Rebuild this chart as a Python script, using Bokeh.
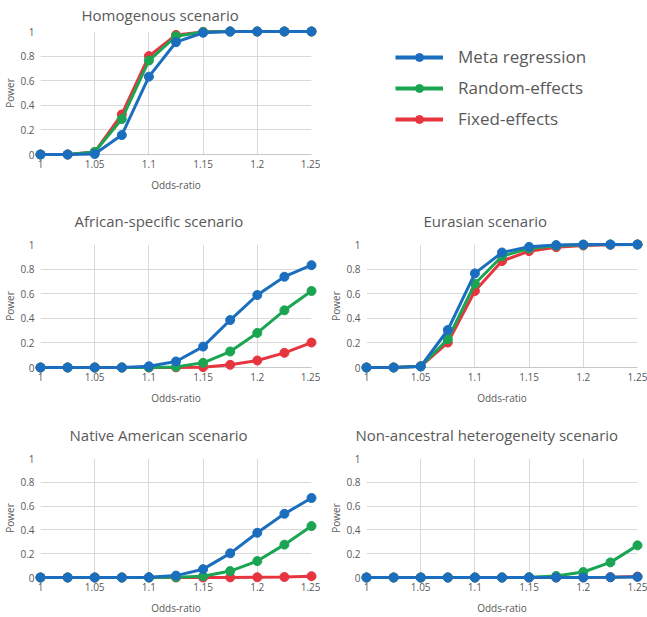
from bokeh.plotting import figure
from bokeh.layouts import row, column
from bokeh.models import Range1d, FixedTicker, Legend, LegendItem, LinearAxis
from bokeh.embed import file_html
from bokeh.resources import INLINE

# ---------------- data ----------------
odds_ratio = [1.0, 1.025, 1.05, 1.075, 1.1, 1.125, 1.15, 1.175, 1.2, 1.225, 1.25]
x_ticks = [1.0, 1.05, 1.1, 1.15, 1.2, 1.25]
x_tick_labels = ["1", "1.05", "1.1", "1.15", "1.2", "1.25"]
y_ticks = [0.0, 0.2, 0.4, 0.6, 0.8, 1.0]
y_tick_labels = ["0", "0.2", "0.4", "0.6", "0.8", "1"]
series_names = ["Meta regression", "Random-effects", "Fixed-effects"]
series_colors = ["#1B6EBE", "#1BA553", "#E6353F"]

homog_meta = [0, 0, 0.004, 0.158, 0.633, 0.913, 0.99, 1, 1, 1, 1]
homog_random = [0, 0, 0.02, 0.288, 0.764, 0.962, 0.996, 1, 1, 1, 1]
homog_fixed = [0, 0, 0.02, 0.326, 0.8, 0.972, 0.997, 1, 1, 1, 1]

african_meta = [0, 0, 0, 0, 0.01, 0.049, 0.17, 0.386, 0.589, 0.738, 0.832]
african_random = [0, 0, 0, 0, 0.001, 0.005, 0.038, 0.13, 0.281, 0.465, 0.622]
african_fixed = [0, 0, 0, 0, 0, 0.001, 0.003, 0.022, 0.057, 0.119, 0.203]

eurasian_meta = [0, 0, 0.008, 0.305, 0.765, 0.935, 0.981, 0.995, 1, 1, 1]
eurasian_random = [0, 0, 0.01, 0.23, 0.681, 0.905, 0.968, 0.99, 0.997, 1, 1]
eurasian_fixed = [0, 0, 0.01, 0.203, 0.622, 0.865, 0.946, 0.978, 0.992, 0.998, 1]

native_meta = [0, 0, 0, 0, 0.002, 0.016, 0.07, 0.203, 0.376, 0.535, 0.668]
native_random = [0, 0, 0, 0, 0, 0.003, 0.011, 0.054, 0.138, 0.276, 0.432]
native_fixed = [0, 0, 0, 0, 0, 0, 0, 0.001, 0.002, 0.004, 0.011]

nonanc_meta = [0, 0, 0, 0, 0, 0, 0, 0, 0, 0.002, 0.005]
nonanc_random = [0, 0, 0, 0, 0, 0, 0.003, 0.013, 0.046, 0.127, 0.27]
nonanc_fixed = [0, 0, 0, 0, 0, 0, 0, 0, 0.001, 0.003, 0.008]

TEXT = "#595959"
FONT = "Open Sans"


def make_panel(title, meta, rand, fixed, width, height, bl, br, bt, bb,
               title_offset, title_standoff, title_gap=0):
    p = figure(width=width, height=height,
               x_range=Range1d(odds_ratio[0], odds_ratio[-1]),
               y_range=Range1d(y_ticks[0], y_ticks[-1]),
               output_backend="svg", toolbar_location=None,
               min_border_left=bl, min_border_right=br,
               min_border_top=bt, min_border_bottom=bb)
    p.title.text = title
    p.title.align = "left"
    p.title.offset = title_offset
    p.title.standoff = title_standoff
    p.title.text_font = FONT
    p.title.text_font_size = "15px"
    p.title.text_font_style = "normal"
    p.title.text_color = TEXT
    p.outline_line_color = None
    p.background_fill_color = "white"
    p.border_fill_color = "white"

    xa = p.below[0]
    ya = p.left[0]
    xa.ticker = FixedTicker(ticks=x_ticks)
    ya.ticker = FixedTicker(ticks=y_ticks)
    xa.major_label_overrides = dict(zip(x_ticks, x_tick_labels))
    ya.major_label_overrides = dict(zip(y_ticks, y_tick_labels))
    xa.axis_label = "Odds-ratio"
    ya.axis_label = "Power"
    for ax in (xa, ya):
        ax.major_tick_line_color = None
        ax.minor_tick_line_color = None
        ax.major_tick_out = 0
        ax.major_tick_in = 0
        ax.minor_tick_out = 0
        ax.minor_tick_in = 0
        ax.major_label_text_font = FONT
        ax.major_label_text_font_size = "10px"
        ax.major_label_text_color = TEXT
        ax.axis_label_text_font = FONT
        ax.axis_label_text_font_size = "10px"
        ax.axis_label_text_font_style = "normal"
        ax.axis_label_text_color = TEXT
    xa.axis_line_color = "#c8c8c8"
    ya.axis_line_color = None
    xa.major_label_standoff = 5
    xa.axis_label_standoff = 7
    ya.major_label_standoff = 6
    ya.axis_label_standoff = 0
    p.xgrid.ticker = FixedTicker(ticks=x_ticks)
    p.ygrid.ticker = FixedTicker(ticks=y_ticks)
    p.grid.grid_line_color = "#d9d9d9"
    p.grid.grid_line_width = 1

    if title_gap:
        # blank spacer between the frame and the title (invisible tick, empty label)
        gap = LinearAxis(ticker=FixedTicker(ticks=[x_ticks[0]]),
                         major_label_overrides={x_ticks[0]: ""},
                         major_label_text_font_size="1px", major_label_text_alpha=0,
                         axis_line_color=None,
                         major_tick_line_color=None, minor_tick_line_color=None,
                         major_tick_out=title_gap, major_tick_in=0,
                         minor_tick_out=0, minor_tick_in=0, major_label_standoff=0)
        p.add_layout(gap, "above")

    for ys, c in ((fixed, series_colors[2]), (rand, series_colors[1]), (meta, series_colors[0])):
        ln = p.line(odds_ratio, ys, line_width=3, line_color=c)
        ln.level = "overlay"
        sc = p.scatter(odds_ratio, ys, size=9, fill_color=c, line_color=c)
        sc.level = "overlay"
    return p


LW, RW = 320, 327
H1, H2, H3 = 194, 214, 209

p1 = make_panel("Homogenous scenario", homog_meta, homog_random, homog_fixed,
                LW, H1, 39, 9, 31, 40, 41, 0, title_gap=7)
p2 = make_panel("African-specific scenario", african_meta, african_random, african_fixed,
                LW, H2, 39, 9, 50, 41, 34, 28)
p3 = make_panel("Eurasian scenario", eurasian_meta, eurasian_random, eurasian_fixed,
                RW, H2, 46, 10, 50, 41, 57, 28)
p4 = make_panel("Native American scenario", native_meta, native_random, native_fixed,
                LW, H3, 39, 9, 50, 39, 29, 28)
p5 = make_panel("Non-ancestral heterogeneity scenario", nonanc_meta, nonanc_random, nonanc_fixed,
                RW, H3, 46, 10, 50, 39, -11, 28)

# legend cell (its frame is aligned with the neighbouring panel's frame)
lg = figure(width=RW, height=H1, output_backend="svg", toolbar_location=None,
            x_axis_location=None, y_axis_location=None,
            x_range=Range1d(0, 1), y_range=Range1d(0, 1),
            min_border_left=61, min_border_right=0, min_border_top=0, min_border_bottom=0)
lg.grid.visible = False
lg.outline_line_color = None
items = []
for name, c, ys in zip(series_names, series_colors, (homog_meta, homog_random, homog_fixed)):
    ln = lg.line(odds_ratio, ys, line_width=4, line_color=c, visible=False)
    sc = lg.scatter(odds_ratio, ys, size=11, fill_color=c, line_color=c, visible=False)
    items.append(LegendItem(label=name, renderers=[ln, sc]))
legend = Legend(items=items, location="top_left", orientation="vertical",
                glyph_width=48, glyph_height=20, label_height=20,
                label_standoff=15, spacing=8, padding=0, margin=14,
                border_line_color=None, background_fill_alpha=0,
                label_text_font=FONT, label_text_font_size="17px",
                label_text_color=TEXT, inactive_fill_alpha=0)
lg.add_layout(legend)

layout = column(row(p1, lg), row(p2, p3), row(p4, p5))

open("out.html", "w").write(file_html(layout, INLINE))
